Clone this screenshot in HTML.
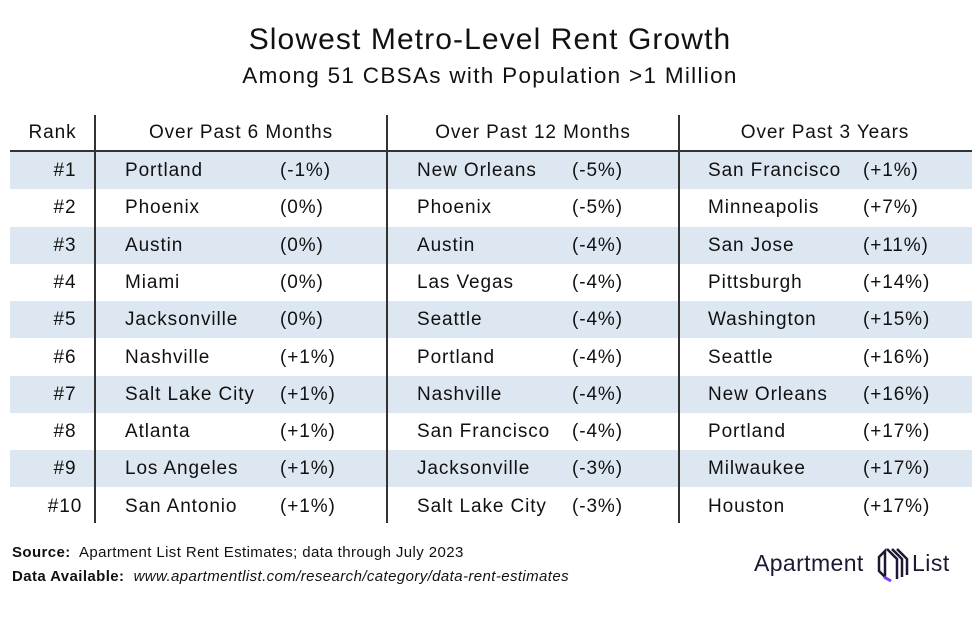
<!DOCTYPE html>
<html><head><meta charset="utf-8"><style>
body{margin:0;width:980px;height:621px;background:#fff;font-family:"Liberation Sans",sans-serif;color:#111;position:relative;overflow:hidden}
.t{position:absolute;white-space:nowrap}
.title{left:0;width:980px;text-align:center;top:23px;font-size:30px;letter-spacing:1.1px}
.sub{left:0;width:980px;text-align:center;top:63px;font-size:22.5px;letter-spacing:1.3px}
.row{position:absolute;left:10px;width:962px;height:37px}
.shade{background:#dde7f1}
.c{position:absolute;font-size:19px;line-height:37px;white-space:nowrap;letter-spacing:0.9px}
.vl{position:absolute;width:1.5px;background:#333;top:115px;height:408px}
.hd{position:absolute;top:118px;font-size:19px;line-height:30px;text-align:center;letter-spacing:0.9px}
.foot{font-size:15px;left:12px;letter-spacing:0.4px}
</style></head><body>
<div class="t title">Slowest Metro-Level Rent Growth</div>
<div class="t sub">Among 51 CBSAs with Population &gt;1 Million</div>
<div id="tbl"></div>
<div class="hd" style="left:10px;width:85px">Rank</div>
<div class="hd" style="left:95px;width:292px">Over Past 6 Months</div>
<div class="hd" style="left:387px;width:292px">Over Past 12 Months</div>
<div class="hd" style="left:679px;width:292px">Over Past 3 Years</div>
<div style="position:absolute;left:10px;width:962px;top:150px;height:1.5px;background:#333"></div>
<div class="vl" style="left:94px"></div>
<div class="vl" style="left:386px"></div>
<div class="vl" style="left:678px"></div>
<div class="t foot" style="top:544px"><b>Source:</b>&nbsp; Apartment List Rent Estimates; data through July 2023</div>
<div class="t foot" style="top:568px"><b>Data Available:</b>&nbsp; <i>www.apartmentlist.com/research/category/data-rent-estimates</i></div>
<div class="t" style="left:754px;top:550px;font-size:23px;letter-spacing:0.4px;color:#1e1633">Apartment</div>
<svg style="position:absolute;left:875px;top:547px" width="34" height="36">
<path d="M4 10 L10 4 L10 30 L4 24 Z" fill="none" stroke="#1e1633" stroke-width="2.5"/>
<path d="M9 30 L16 34" stroke="#7b3fe4" stroke-width="3"/>
<path d="M12 2 L22 12 L22 32 M17 2 L27 12 L27 30 M22 2 L32 12 L32 28" fill="none" stroke="#1e1633" stroke-width="2.5"/>
</svg>
<div class="t" style="left:912px;top:550px;font-size:23px;letter-spacing:0.5px;color:#1e1633">List</div>
<script>
const ranks=["#1","#2","#3","#4","#5","#6","#7","#8","#9","#10"];
const cities6=["Portland","Phoenix","Austin","Miami","Jacksonville","Nashville","Salt Lake City","Atlanta","Los Angeles","San Antonio"];
const vals6=["(-1%)","(0%)","(0%)","(0%)","(0%)","(+1%)","(+1%)","(+1%)","(+1%)","(+1%)"];
const cities12=["New Orleans","Phoenix","Austin","Las Vegas","Seattle","Portland","Nashville","San Francisco","Jacksonville","Salt Lake City"];
const vals12=["(-5%)","(-5%)","(-4%)","(-4%)","(-4%)","(-4%)","(-4%)","(-4%)","(-3%)","(-3%)"];
const cities3y=["San Francisco","Minneapolis","San Jose","Pittsburgh","Washington","Seattle","New Orleans","Portland","Milwaukee","Houston"];
const vals3y=["(+1%)","(+7%)","(+11%)","(+14%)","(+15%)","(+16%)","(+16%)","(+17%)","(+17%)","(+17%)"];
const tbl=document.getElementById('tbl');
function cell(row,x,txt,name,w){const d=document.createElement('div');d.className='c';d.style.left=x+'px';if(w){d.style.width=w+'px';d.style.textAlign='center';}d.textContent=txt;


row.appendChild(d);}
ranks.forEach((r,i)=>{const row=document.createElement('div');row.className='row'+(i%2===0?' shade':'');row.style.top=(152+i*37.3)+'px';


cell(row,0,r,'rank-cell',110);
cell(row,115,cities6[i],'city-6m');cell(row,270,vals6[i],'value-6m');
cell(row,407,cities12[i],'city-12m');cell(row,562,vals12[i],'value-12m');
cell(row,698,cities3y[i],'city-3y');cell(row,853,vals3y[i],'value-3y');
tbl.appendChild(row);});
</script>
</body></html>
